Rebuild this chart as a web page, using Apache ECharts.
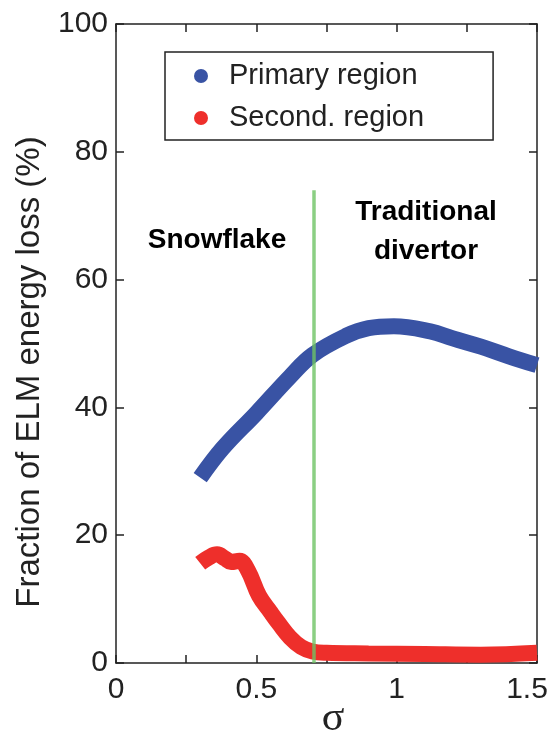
<!DOCTYPE html>
<html>
<head>
<meta charset="utf-8">
<script src="https://cdn.jsdelivr.net/npm/echarts@6/dist/echarts.min.js"></script>
<style>
  html, body { margin: 0; padding: 0; background: #fff; }
  #chart { width: 553px; height: 733px; }
</style>
</head>
<body>
<div id="chart"></div>
<script>
// values
var primarySigma = [0.30, 0.38, 0.50, 0.62, 0.70, 0.82, 0.90, 0.99, 1.12, 1.20, 1.30, 1.40, 1.50];
var primaryLoss  = [29.0, 33.6, 39.1, 44.8, 48.2, 51.2, 52.4, 52.7, 51.9, 50.8, 49.5, 48.0, 46.6];

var secondSigma = [0.30, 0.33, 0.36, 0.39, 0.41, 0.44, 0.47, 0.51, 0.55, 0.58, 0.62, 0.66, 0.70, 0.75, 0.90, 1.10, 1.30, 1.50];
var secondLoss  = [15.6, 16.5, 17.0, 16.3, 15.8, 16.0, 14.5, 10.5, 8.0, 6.2, 4.0, 2.5, 1.8, 1.6, 1.5, 1.4, 1.3, 1.6];

var boundarySigma = 0.705;
var boundaryTop = 74;

var xTicks = [0, 0.5, 1, 1.5];

function pairs(xs, ys) {
    return xs.map(function (x, i) { return [x, ys[i]]; });
}

var chart = echarts.init(document.getElementById('chart'));

var font = 'Liberation Sans';
var ink = '#222';

function frameAxis(extra) {
    var a = {
        type: 'value',
        axisLine: { show: true, onZero: false, lineStyle: { color: ink, width: 1.5 } },
        axisTick: { show: true, inside: true, length: 8, lineStyle: { color: ink, width: 1.5 } },
        splitLine: { show: false }
    };
    for (var k in extra) a[k] = extra[k];
    return a;
}

var option = {
    animation: false,
    grid: { left: 116, top: 24, width: 421, height: 639, outerBoundsMode: 'none', containLabel: false },
    legend: {
        orient: 'vertical',
        left: 165,
        top: 52,
        padding: [9, 69, 7, 29],
        itemGap: 12,
        itemWidth: 14,
        itemHeight: 14,
        borderColor: ink,
        borderWidth: 1.5,
        backgroundColor: '#fff',
        icon: 'circle',
        textStyle: { fontFamily: font, fontSize: 29, color: ink, lineHeight: 30, padding: [0, 0, 0, 16] },
        data: ['Primary region', 'Second. region']
    },
    xAxis: [frameAxis({
        min: 0, max: 1.5, interval: 0.25, position: 'bottom',
        axisLabel: {
            margin: 12, fontFamily: font, fontSize: 30, color: ink,
            formatter: function (v) {
                if (xTicks.indexOf(v) < 0) return '';
                // the last label sits a little inside the frame, as in the figure
                return v === 1.5 ? '{last|' + v + '}' : String(v);
            },
            rich: {
                last: { fontFamily: font, fontSize: 30, color: ink, padding: [0, 20, 0, 0] }
            }
        }
    }), frameAxis({
        min: 0, max: 1.5, interval: 0.25, position: 'top',
        axisLabel: { show: false }
    })],
    yAxis: [frameAxis({
        min: 0, max: 100, interval: 20, position: 'left',
        axisLabel: { margin: 8, fontFamily: font, fontSize: 30, color: ink }
    }), frameAxis({
        min: 0, max: 100, interval: 20, position: 'right',
        axisLabel: { show: false }
    })],
    series: [{
        name: 'Primary region',
        type: 'line',
        smooth: 0.4,
        showSymbol: false,
        color: '#3953a4',
        lineStyle: { width: 16, color: '#3953a4' },
        data: pairs(primarySigma, primaryLoss),
        z: 2
    }, {
        name: 'Second. region',
        type: 'line',
        smooth: 0.4,
        showSymbol: false,
        color: '#ee2f2b',
        lineStyle: { width: 16, color: '#ee2f2b' },
        data: pairs(secondSigma, secondLoss),
        z: 2
    }, {
        name: 'boundary',
        type: 'line',
        xAxisIndex: 1,
        yAxisIndex: 1,
        data: [],
        z: 5,
        markLine: {
            silent: true,
            symbol: 'none',
            label: { show: false },
            lineStyle: { type: 'solid', color: 'rgba(110,195,100,0.8)', width: 3.5 },
            data: [[{ coord: [boundarySigma, 0] }, { coord: [boundarySigma, boundaryTop] }]]
        }
    }],
    graphic: [{
        type: 'text', x: 217, y: 240,
        style: { text: 'Snowflake', font: 'bold 28px "Liberation Sans"', fill: '#000', textAlign: 'center', textVerticalAlign: 'middle' }
    }, {
        type: 'text', x: 426, y: 232,
        style: { text: 'Traditional\ndivertor', font: 'bold 28px "Liberation Sans"', lineHeight: 39, fill: '#000', textAlign: 'center', textVerticalAlign: 'middle' }
    }, {
        type: 'text', x: 30, y: 372, rotation: Math.PI / 2,
        style: { text: 'Fraction of ELM energy loss (%)', font: '33px "Liberation Sans"', fill: ink, textAlign: 'center', textVerticalAlign: 'middle' }
    }, {
        type: 'text', x: 333, y: 719,
        style: { text: 'σ', font: '42px "Liberation Serif"', fill: ink, textAlign: 'center', textVerticalAlign: 'middle' }
    }]
};

chart.setOption(option);
</script>
</body>
</html>
